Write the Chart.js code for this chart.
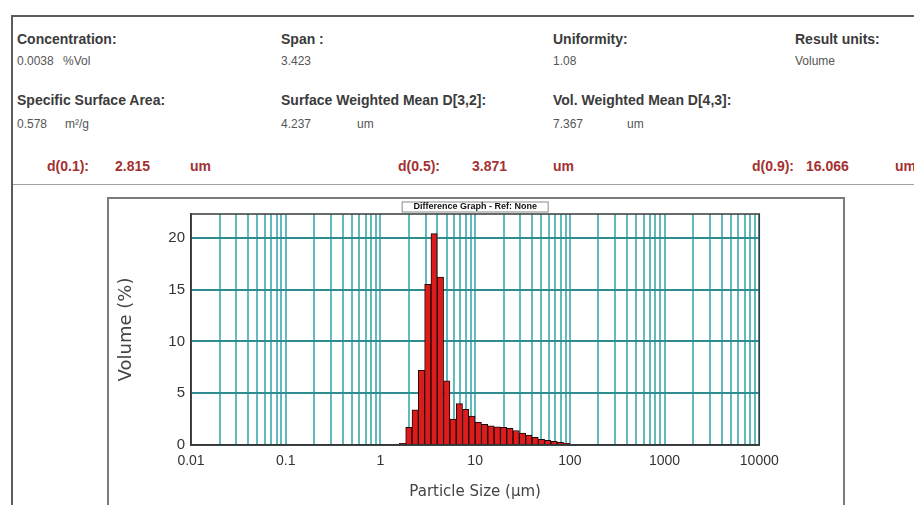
<!DOCTYPE html>
<html lang="en">
<head>
<meta charset="utf-8">
<title>Particle size distribution</title>
<script src="https://cdn.jsdelivr.net/npm/chart.js@4.4.1/dist/chart.umd.min.js"></script>
<style>
  html, body { margin: 0; padding: 0; background: #fff; }
  body { position: relative; width: 914px; height: 505px; overflow: hidden;
         font-family: "Liberation Sans", Arial, sans-serif; }
  .rule { position: absolute; background: #5c5c5c; }
  .t { position: absolute; white-space: nowrap; line-height: 16px; }
  .lbl { font-size: 14px; font-weight: bold; color: #3b3b3b; }
  .val { font-size: 12px; color: #555; }
  .dv  { font-size: 14px; font-weight: bold; color: #a33131; }
  #graphBox { position: absolute; left: 107px; top: 197px; width: 738px; height: 330px;
              border: 2px solid #7c7c7c; box-sizing: border-box; }
  #psd { position: absolute; left: 109px; top: 199px; }
</style>
</head>
<body>
<div class="rule" style="left:11px;top:15px;width:903px;height:2px"></div>
<div class="rule" style="left:11px;top:15px;width:2px;height:490px"></div>
<div class="rule" style="left:13px;top:184px;width:901px;height:1px;background:#a0a0a0"></div>

<div class="t lbl" style="left:17px;top:31px">Concentration:</div>
<div class="t val" style="left:17px;top:53px">0.0038</div>
<div class="t val" style="left:63px;top:53px">%Vol</div>
<div class="t lbl" style="left:17px;top:92px">Specific Surface Area:</div>
<div class="t val" style="left:17px;top:116px">0.578</div>
<div class="t val" style="left:65px;top:116px">m²/g</div>

<div class="t lbl" style="left:281px;top:31px">Span :</div>
<div class="t val" style="left:281px;top:53px">3.423</div>
<div class="t lbl" style="left:281px;top:92px">Surface Weighted Mean D[3,2]:</div>
<div class="t val" style="left:281px;top:116px">4.237</div>
<div class="t val" style="left:357px;top:116px">um</div>

<div class="t lbl" style="left:553px;top:31px">Uniformity:</div>
<div class="t val" style="left:553px;top:53px">1.08</div>
<div class="t lbl" style="left:553px;top:92px">Vol. Weighted Mean D[4,3]:</div>
<div class="t val" style="left:553px;top:116px">7.367</div>
<div class="t val" style="left:627px;top:116px">um</div>

<div class="t lbl" style="left:795px;top:31px">Result units:</div>
<div class="t val" style="left:795px;top:53px">Volume</div>

<div class="t dv" style="left:47px;top:158px">d(0.1):</div>
<div class="t dv" style="left:115px;top:158px">2.815</div>
<div class="t dv" style="left:190px;top:158px">um</div>
<div class="t dv" style="left:398px;top:158px">d(0.5):</div>
<div class="t dv" style="left:472px;top:158px">3.871</div>
<div class="t dv" style="left:553px;top:158px">um</div>
<div class="t dv" style="left:752px;top:158px">d(0.9):</div>
<div class="t dv" style="left:806px;top:158px">16.066</div>
<div class="t dv" style="left:895px;top:158px">um</div>

<div id="graphBox"></div>
<canvas id="psd" width="734" height="306"></canvas>

<script>
// size class edges (um) and volume found in each class (%)
const sizeEdges = [1.585, 1.848, 2.154, 2.512, 2.929, 3.415, 3.981, 4.642, 5.412, 6.310, 7.356, 8.577,
  10.00, 11.66, 13.59, 15.85, 18.48, 21.54, 25.12, 29.29, 34.15, 39.81, 46.42, 54.12, 63.10, 73.56, 85.77, 100.0];
const volumePct = [0.15, 1.7, 3.4, 7.2, 15.5, 20.4, 16.2, 6.2, 2.5, 4.0, 3.45, 2.8,
  2.2, 2.0, 1.85, 1.75, 1.7, 1.6, 1.4, 1.15, 0.95, 0.75, 0.55, 0.45, 0.35, 0.25, 0.15];

// axis ticks
const decades = [0.01, 0.1, 1, 10, 100, 1000, 10000];
const decadeLabels = ["0.01", "0.1", "1", "10", "100", "1000", "10000"];
const volumeTicks = [0, 5, 10, 15, 20];

// log grid: 1..9 in every decade
const sizeGrid = [];
decades.slice(0, -1).forEach((d) => {
  for (let m = 1; m < 10; m++) sizeGrid.push(+(m * d).toPrecision(3));
});
sizeGrid.push(decades[decades.length - 1]);

// one bar per size class, centred (geometric mean) in its class
const bars = volumePct.map((v, i) => ({ x: Math.sqrt(sizeEdges[i] * sizeEdges[i + 1]), y: v }));

// frame round the plot and the little caption tab above it
const plotFrame = {
  id: "plotFrame",
  afterDatasetsDraw(chart) {
    const { ctx, chartArea: a } = chart;
    ctx.save();
    ctx.strokeStyle = "#3a3a3a";
    ctx.lineWidth = 1.5;
    ctx.strokeRect(a.left, a.top, a.right - a.left, a.bottom - a.top);

    const cx = (a.left + a.right) / 2;
    ctx.fillStyle = "#fff";
    ctx.fillRect(cx - 73, a.top - 12, 146, 10);
    ctx.strokeStyle = "#8a8a8a";
    ctx.lineWidth = 1;
    ctx.strokeRect(cx - 73, a.top - 12, 146, 10);
    ctx.fillStyle = "#111";
    ctx.font = 'bold 9px "Liberation Sans", Arial, sans-serif';
    ctx.textAlign = "center";
    ctx.textBaseline = "middle";
    ctx.fillText("Difference Graph - Ref: None", cx, a.top - 7);
    ctx.restore();
  },
};

const tickFont = { family: '"Liberation Sans", Arial, sans-serif', size: 14 };

new Chart(document.getElementById("psd"), {
  type: "bar",
  data: {
    datasets: [
      {
        label: "Volume",
        data: bars,
        backgroundColor: "#dc1c1c",
        borderColor: "#1c0606",
        borderWidth: 1,
        // bar fills its whole size class
        barThickness: (ctx) => {
          const x = ctx.chart.scales.x;
          const w = x ? x.getPixelForValue(sizeEdges[1]) - x.getPixelForValue(sizeEdges[0]) : NaN;
          return isFinite(w) && w > 0 ? w : undefined;
        },
      },
    ],
  },
  options: {
    responsive: false,
    animation: false,
    devicePixelRatio: 1,
    layout: { padding: { top: 13.7, right: 83.7, left: 0, bottom: 0 } },
    plugins: { legend: { display: false }, tooltip: { enabled: false } },
    scales: {
      x: {
        type: "logarithmic",
        min: 0.01,
        max: 10000,
        offset: false,
        afterBuildTicks: (scale) => {
          scale.ticks = sizeGrid.map((v) => ({ value: v }));
        },
        afterFit: (scale) => {
          scale.height = 60;
        },
        grid: { offset: false, color: "#62babd", lineWidth: 2, drawTicks: false },
        border: { color: "#333", width: 1.5 },
        ticks: {
          autoSkip: false,
          maxRotation: 0,
          padding: 8,
          color: "#333",
          font: tickFont,
          callback: (value) => {
            const i = decades.findIndex((d) => Math.abs(d - value) / d < 1e-6);
            return i >= 0 ? decadeLabels[i] : "";
          },
        },
        title: {
          display: true,
          text: "Particle Size (μm)",
          color: "#444",
          font: { family: '"DejaVu Sans", sans-serif', size: 15 },
          padding: { top: 0, bottom: 4 },
        },
      },
      y: {
        type: "linear",
        min: 0,
        max: 22.3,
        afterBuildTicks: (scale) => {
          scale.ticks = volumeTicks.map((v) => ({ value: v }));
        },
        afterFit: (scale) => {
          scale.width = 82;
        },
        grid: { color: "#2f8d91", lineWidth: 2, drawTicks: false },
        border: { color: "#333", width: 1.5 },
        ticks: { padding: 6, color: "#333", font: { ...tickFont, size: 15 } },
        title: {
          display: true,
          text: "Volume (%)",
          color: "#444",
          font: { family: '"DejaVu Sans", sans-serif', size: 18 },
          padding: { top: 7, bottom: 0 },
        },
      },
    },
  },
  plugins: [plotFrame],
});
</script>
</body>
</html>
